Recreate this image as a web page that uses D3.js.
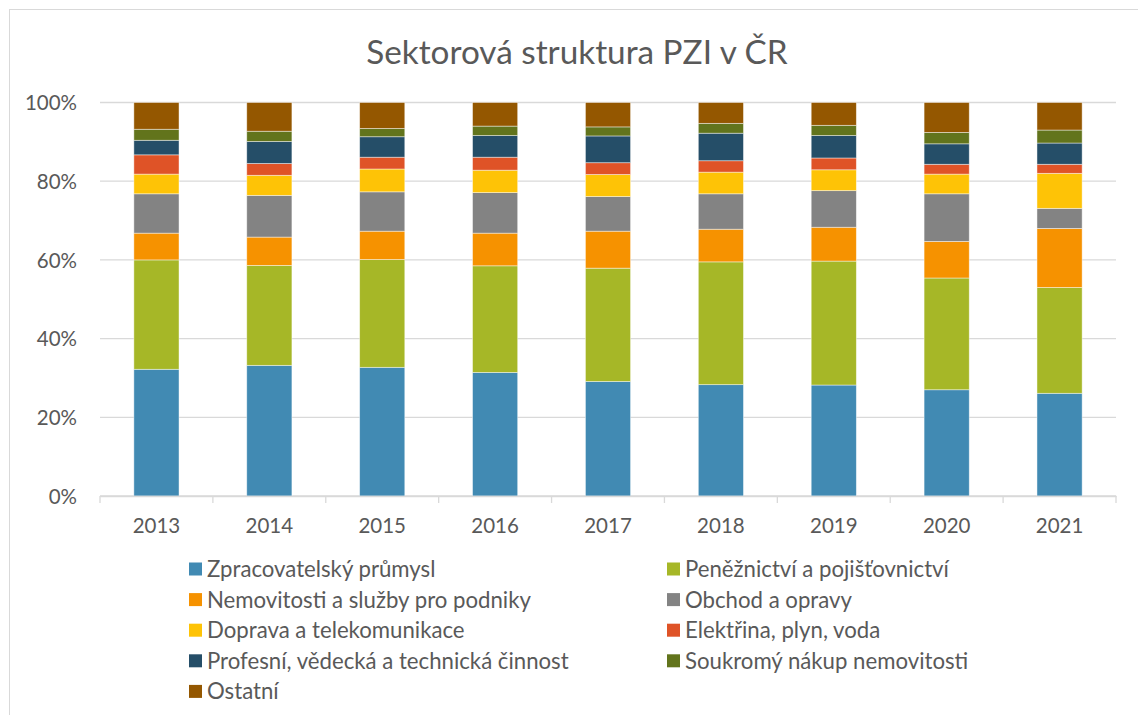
<!DOCTYPE html>
<html>
<head>
<meta charset="utf-8">
<script src="https://cdn.jsdelivr.net/npm/d3@7"></script>
<style>
  body { margin: 0; background: #fff; }
  svg text { font-family: Lato, "Open Sans", sans-serif; fill: #595959; }
</style>
</head>
<body>
<div id="chart"></div>
<script>
const years = ["2013", "2014", "2015", "2016", "2017", "2018", "2019", "2020", "2021"];
const sectorNames = [
  "Zpracovatelský průmysl",
  "Peněžnictví a pojišťovnictví",
  "Nemovitosti a služby pro podniky",
  "Obchod a opravy",
  "Doprava a telekomunikace",
  "Elektřina, plyn, voda",
  "Profesní, vědecká a technická činnost",
  "Soukromý nákup nemovitosti",
  "Ostatní"
];
const sectorColors = ["#418AB3", "#A6B727", "#F69200", "#838383", "#FEC306", "#DF5327", "#254E68", "#62741C", "#945700"];

// podíly v %
const zpracovatelsky = [32.2, 33.2, 32.7, 31.4, 29.1, 28.3, 28.2, 27.0, 26.1];
const penezniictvi  = [27.8, 25.4, 27.4, 27.1, 28.8, 31.2, 31.5, 28.4, 26.9];
const nemovitosti   = [6.8, 7.2, 7.2, 8.3, 9.4, 8.3, 8.6, 9.3, 15.0];
const obchod        = [10.0, 10.6, 10.0, 10.3, 8.8, 9.0, 9.3, 12.1, 5.1];
const doprava       = [5.0, 5.1, 5.8, 5.7, 5.6, 5.5, 5.3, 5.0, 8.9];
const elektrina     = [4.9, 3.0, 3.0, 3.3, 3.0, 2.9, 3.0, 2.5, 2.3];
const profesni      = [3.7, 5.6, 5.2, 5.5, 6.8, 7.0, 5.7, 5.2, 5.4];
const soukromy      = [2.8, 2.6, 2.1, 2.4, 2.3, 2.5, 2.6, 2.9, 3.3];
const ostatni       = [6.8, 7.3, 6.6, 6.0, 6.2, 5.3, 5.8, 7.6, 7.0];
const yTicks = [0, 0.2, 0.4, 0.6, 0.8, 1];

const seriesValues = [zpracovatelsky, penezniictvi, nemovitosti, obchod, doprava, elektrina, profesni, soukromy, ostatni];

const width = 1138;
const height = 715;
const plot = { left: 100, right: 1116, top: 102.5, bottom: 496 };

const svg = d3.select("#chart").append("svg")
  .attr("width", width)
  .attr("height", height);

// rámeček grafu
svg.append("rect")
  .attr("x", 9.5).attr("y", 9.5)
  .attr("width", 1200).attr("height", 800)
  .attr("fill", "#fff")
  .attr("stroke", "#d9d9d9");

// tabulka pro stack
const rows = years.map((y, i) => {
  const r = { year: y };
  sectorNames.forEach((s, j) => r[s] = seriesValues[j][i]);
  return r;
});

const stacked = d3.stack()
  .keys(sectorNames)
  .offset(d3.stackOffsetExpand)(rows);

const x = d3.scaleBand()
  .domain(years)
  .range([plot.left, plot.right])
  .paddingInner(0.6)
  .paddingOuter(0.3);

const y = d3.scaleLinear()
  .domain([0, 1])
  .range([plot.bottom, plot.top]);

const color = d3.scaleOrdinal().domain(sectorNames).range(sectorColors);

// mřížka
svg.append("g")
  .selectAll("line")
  .data(yTicks)
  .join("line")
  .attr("x1", plot.left).attr("x2", plot.right)
  .attr("y1", d => y(d)).attr("y2", d => y(d))
  .attr("stroke", "#d9d9d9")
  .attr("stroke-width", 1.3);

// popisky osy Y
const yAxis = svg.append("g")
  .attr("transform", `translate(${plot.left - 23},0)`)
  .call(d3.axisLeft(y).tickValues(yTicks).tickFormat(d3.format(".0%")).tickSize(0).tickPadding(0));
yAxis.select(".domain").remove();
yAxis.selectAll("text")
  .style("font-size", "20.5px")
  .attr("dy", "0.36em");

// sloupce
svg.append("g")
  .selectAll("g")
  .data(stacked)
  .join("g")
  .attr("fill", d => color(d.key))
  .selectAll("rect")
  .data(d => d)
  .join("rect")
  .attr("x", d => x(d.data.year))
  .attr("y", d => y(d[1]))
  .attr("height", d => y(d[0]) - y(d[1]))
  .attr("width", x.bandwidth())
  .attr("stroke", "#fff")
  .attr("stroke-opacity", 0.55)
  .attr("stroke-width", 0.8);

// osa X
const xAxis = svg.append("g")
  .attr("transform", `translate(0,${plot.bottom})`)
  .call(d3.axisBottom(x).tickSize(0).tickPadding(22));
xAxis.select(".domain").attr("stroke", "#d9d9d9").attr("stroke-width", 1.3);
xAxis.selectAll("text").style("font-size", "20.5px");

// značky mezi kategoriemi
const step = x.step();
svg.append("g")
  .selectAll("line")
  .data(d3.range(years.length + 1))
  .join("line")
  .attr("x1", i => plot.left + i * step)
  .attr("x2", i => plot.left + i * step)
  .attr("y1", plot.bottom)
  .attr("y2", plot.bottom + 7)
  .attr("stroke", "#d9d9d9")
  .attr("stroke-width", 1.3);

// nadpis
svg.append("text")
  .attr("x", 577)
  .attr("y", 64)
  .attr("text-anchor", "middle")
  .style("font-size", "33.3px")
  .text("Sektorová struktura PZI v ČR");

// legenda
const legendCols = [189, 667];
const legendTop = 569;
const legendRow = 30.6;

const legend = svg.append("g")
  .selectAll("g")
  .data(sectorNames)
  .join("g")
  .attr("transform", (d, i) => `translate(${legendCols[i % 2]},${legendTop + Math.floor(i / 2) * legendRow})`);

legend.append("rect")
  .attr("x", 0).attr("y", -6.5)
  .attr("width", 13).attr("height", 13)
  .attr("fill", d => color(d));

legend.append("text")
  .attr("x", 18)
  .attr("dy", "0.36em")
  .style("font-size", "22.2px")
  .text(d => d);
</script>
</body>
</html>
